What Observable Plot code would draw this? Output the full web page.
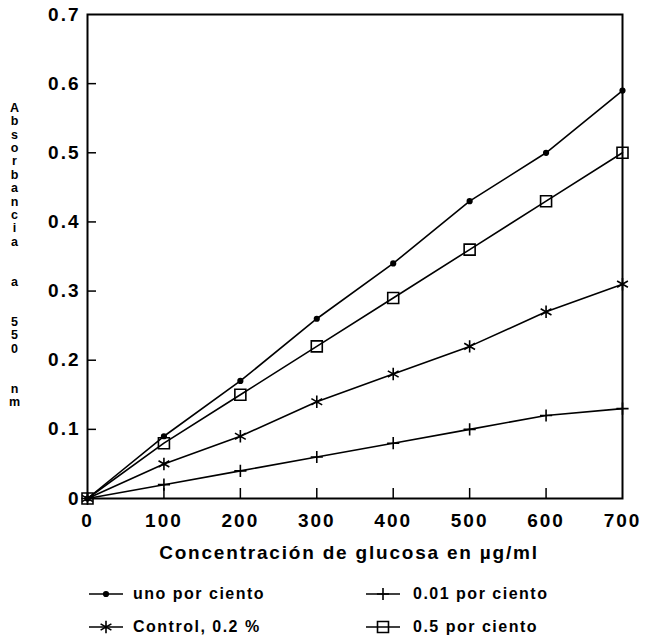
<!DOCTYPE html>
<html>
<head>
<meta charset="utf-8">
<script src="https://cdn.jsdelivr.net/npm/d3@7"></script>
<script src="https://cdn.jsdelivr.net/npm/@observablehq/plot@0.6"></script>
<style>
  body { margin: 0; background: #fff; }
  #chart { position: relative; width: 645px; height: 635px; font-family: "Liberation Sans", Arial, sans-serif; color: #000; }
  .entry { position: absolute; display: flex; align-items: center; height: 20px; }
  .entry span { font-size: 16px; font-weight: bold; letter-spacing: 1.5px; white-space: nowrap; }
  .entry svg { display: block; }
</style>
</head>
<body>
<div id="chart"></div>
<script>
// Glucose concentration (µg/ml)
const glucosa = [0, 100, 200, 300, 400, 500, 600, 700];

// Absorbance at 550 nm for each treatment
const unoPorCiento       = [0, 0.09, 0.17, 0.26, 0.34, 0.43, 0.50, 0.59];
const centesimaPorCiento = [0, 0.02, 0.04, 0.06, 0.08, 0.10, 0.12, 0.13];
const control02          = [0, 0.05, 0.09, 0.14, 0.18, 0.22, 0.27, 0.31];
const mediaPorCiento     = [0, 0.08, 0.15, 0.22, 0.29, 0.36, 0.43, 0.50];

const nombres  = ["uno por ciento", "0.01 por ciento", "Control, 0.2 %", "0.5 por ciento"];
const simbolos = ["circle", "plus", "asterisk", "square"];
const valores  = [unoPorCiento, centesimaPorCiento, control02, mediaPorCiento];

const xTicks = [0, 100, 200, 300, 400, 500, 600, 700];
const xTickLabels = ["0", "100", "200", "300", "400", "500", "600", "700"];
const yTicks = [0, 0.1, 0.2, 0.3, 0.4, 0.5, 0.6, 0.7];
const yTickLabels = ["0", "0.1", "0.2", "0.3", "0.4", "0.5", "0.6", "0.7"];

const xTitle = "Concentración de glucosa en µg/ml";
const yTitle = "Absorbancia  a  550  nm";

// long-format rows for the marks
const rows = [];
nombres.forEach((serie, s) => {
  glucosa.forEach((g, i) => rows.push({serie, x: g, y: valores[s][i]}));
});

// marker radius per symbol
const radio = {circle: 2.3, plus: 4, asterisk: 5.9, square: 6.2};

const W = 645, H = 570, mL = 87, mR = 23, mT = 14, mB = 72;
const frameW = W - mL - mR, frameH = H - mT - mB;

const plot = Plot.plot({
  width: W,
  height: H,
  marginLeft: mL,
  marginRight: mR,
  marginTop: mT,
  marginBottom: mB,
  x: {domain: [0, 700]},
  y: {domain: [0, 0.7]},
  style: {background: "#fff", color: "#000", fontFamily: "'Liberation Sans', Arial, sans-serif"},
  marks: [
    // inward ticks
    Plot.tickX(xTicks.slice(1, -1), {x: d => d, insetTop: frameH - 10, stroke: "#000", strokeWidth: 1.5}),
    Plot.tickY(yTicks.slice(1, -1), {y: d => d, insetRight: frameW - 9, stroke: "#000", strokeWidth: 1.5}),
    Plot.axisX(xTicks, {
      label: null, tickSize: 0, tickPadding: 15, fontSize: 19, fontWeight: "bold",
      tickFormat: d => xTickLabels[xTicks.indexOf(d)]
    }),
    Plot.axisY(yTicks, {
      label: null, tickSize: 0, tickPadding: 7, fontSize: 19, fontWeight: "bold",
      tickFormat: d => yTickLabels[yTicks.indexOf(d)]
    }),
    Plot.line(rows, {x: "x", y: "y", z: "serie", stroke: "#000", strokeWidth: 1.6}),
    ...nombres.map((serie, s) => Plot.dot(rows.filter(d => d.serie === serie), {
      x: "x", y: "y",
      symbol: simbolos[s],
      r: radio[simbolos[s]],
      stroke: "#000",
      strokeWidth: 1.6,
      fill: simbolos[s] === "circle" ? "#000" : "none"
    })),
    Plot.frame({stroke: "#000", strokeWidth: 2}),
    // x-axis title
    Plot.text([xTitle], {
      text: d => d, frameAnchor: "bottom", dy: 54, dx: -6, lineAnchor: "middle",
      fontSize: 19, fontWeight: "bold", className: "titulo-x"
    }),
    // y-axis title, one character per line
    Plot.text([yTitle], {
      text: d => Array.from(d).map(c => c === " " ? "\u00a0" : c).join("\n"),
      frameAnchor: "top-left", dx: -73, dy: 88, lineAnchor: "top", textAnchor: "middle",
      lineHeight: 1.07, fontSize: 12.5, fontWeight: "bold"
    })
  ]
});

// letter spacing for the tick labels and the x title
d3.select(plot).selectAll("g[aria-label='x-axis tick label'] text, g[aria-label='y-axis tick label'] text")
  .attr("letter-spacing", 2);
d3.select(plot).selectAll(".titulo-x text").attr("letter-spacing", 1.8);

const chart = document.getElementById("chart");
chart.appendChild(plot);

// legend below the plot
const posiciones = [
  {left: 88, top: 584},
  {left: 365, top: 584},
  {left: 88, top: 617},
  {left: 365, top: 617}
];
nombres.forEach((serie, s) => {
  const entry = document.createElement("div");
  entry.className = "entry";
  entry.style.left = posiciones[s].left + "px";
  entry.style.top = posiciones[s].top + "px";
  const svg = d3.create("svg").attr("width", 36).attr("height", 20);
  svg.append("line").attr("x1", 1).attr("x2", 35).attr("y1", 10).attr("y2", 10)
    .attr("stroke", "#000").attr("stroke-width", 1.6);
  const sym = {circle: d3.symbolCircle, plus: d3.symbolPlus, asterisk: d3.symbolAsterisk, square: d3.symbolSquare}[simbolos[s]];
  const r = radio[simbolos[s]];
  svg.append("path")
    .attr("transform", "translate(18,10)")
    .attr("d", d3.symbol(sym, r * r * Math.PI)())
    .attr("stroke", "#000").attr("stroke-width", 1.6)
    .attr("fill", simbolos[s] === "circle" ? "#000" : "none");
  entry.appendChild(svg.node());
  const label = document.createElement("span");
  label.textContent = serie;
  label.style.marginLeft = (s % 2 === 0 ? 9 : 12) + "px";
  entry.appendChild(label);
  chart.appendChild(entry);
});
</script>
</body>
</html>
